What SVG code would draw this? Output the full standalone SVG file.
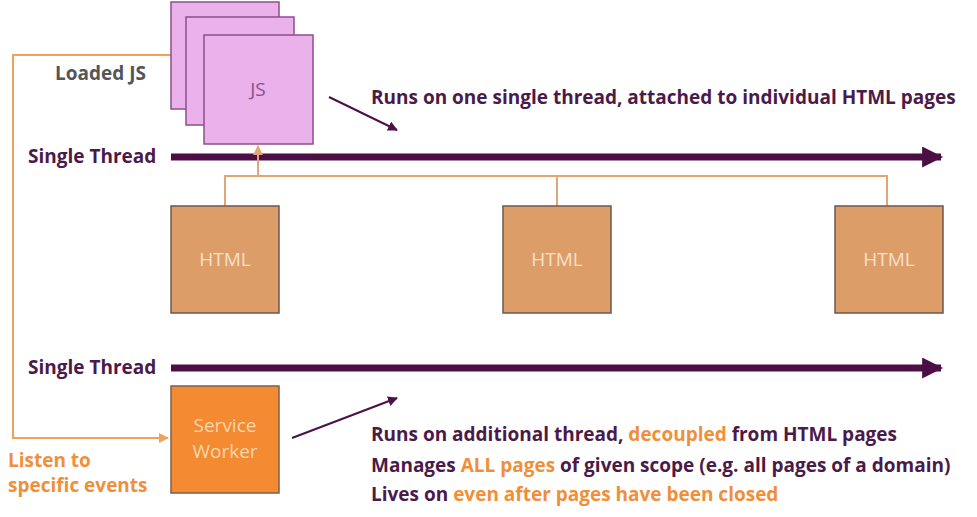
<svg xmlns="http://www.w3.org/2000/svg" width="977" height="517" viewBox="0 0 977 517">
<defs>
<style>
.lbl{font-family:"Open Sans",Lato,sans-serif;font-weight:700;font-size:19px;fill:#4b1a4a}
.org{fill:#f08f3a}
.gray{fill:#555}
.box{font-family:"Open Sans",Lato,sans-serif;font-size:19px;text-anchor:middle}
.js{fill:#ebb1ea;stroke:#8c4f8c;stroke-width:1.5}
.html{fill:#dc9d69;stroke:#6a5a50;stroke-width:1.5}
.thread{stroke:#4b0f46;stroke-width:7;fill:none}
.ol{stroke:#f0a25a;stroke-width:2;fill:none}
.hl{stroke:#e3a576;stroke-width:2;fill:none}
.pa{stroke:#4b1248;stroke-width:2;fill:none}
</style>
<marker id="thr" viewBox="0 0 10 10" refX="9" refY="5" markerWidth="3.2" markerHeight="3" orient="auto" markerUnits="strokeWidth"><path d="M0,0L10,5L0,10z" fill="#4b0f46"/></marker>
<marker id="oa" viewBox="0 0 10 10" refX="9" refY="5" markerWidth="5" markerHeight="5" orient="auto" markerUnits="strokeWidth"><path d="M0,0L10,5L0,10z" fill="#f0a25a"/></marker>
<marker id="ha" viewBox="0 0 10 10" refX="9" refY="5" markerWidth="5" markerHeight="5" orient="auto" markerUnits="strokeWidth"><path d="M0,0L10,5L0,10z" fill="#e3a576"/></marker>
<marker id="pa" viewBox="0 0 10 10" refX="9" refY="5" markerWidth="5" markerHeight="5" orient="auto" markerUnits="strokeWidth"><path d="M0,0L10,5L0,10z" fill="#4b1248"/></marker>
</defs>
<rect width="977" height="517" fill="#fff"/>
<g id="connectors">
<path class="thread" d="M171,157H941" marker-end="url(#thr)"/>
<path class="thread" d="M171,368H941" marker-end="url(#thr)"/>
<path class="ol" d="M171,55H13V438H168" marker-end="url(#oa)"/>
<path class="hl" d="M225,206V176H887V206M557,176V206"/>
<path class="hl" d="M258,176V146" marker-end="url(#ha)"/>
<path class="pa" d="M329,97L397,130" marker-end="url(#pa)"/>
<path class="pa" d="M292,438L397,398" marker-end="url(#pa)"/>
</g>
<g id="loaded-js">
<rect class="js" x="171" y="2" width="108" height="107"/>
<rect class="js" x="186" y="17" width="108" height="108"/>
<rect class="js" x="204" y="35" width="109" height="109"/>
<text class="box" x="258" y="96" fill="#8b4f8c">JS</text>
<text class="lbl gray" x="55" y="80">Loaded JS</text>
</g>
<g id="thread1-label"><text class="lbl" x="28" y="163">Single Thread</text></g>
<g id="thread2-label"><text class="lbl" x="28" y="374">Single Thread</text></g>
<g id="html1"><rect class="html" x="171" y="206" width="108" height="107"/><text class="box" x="225" y="266" fill="#f8e0c8">HTML</text></g>
<g id="html2"><rect class="html" x="503" y="206" width="108" height="107"/><text class="box" x="557" y="266" fill="#f8e0c8">HTML</text></g>
<g id="html3"><rect class="html" x="835" y="206" width="108" height="107"/><text class="box" x="889" y="266" fill="#f8e0c8">HTML</text></g>
<g id="service-worker">
<rect x="171" y="386" width="108" height="107" fill="#f48a31" stroke="#7a6050" stroke-width="1.5"/>
<text class="box" x="225" y="432" fill="#fbd6ae">Service</text>
<text class="box" x="225" y="458" fill="#fbd6ae">Worker</text>
</g>
<g id="listen-label">
<text class="lbl org" x="8" y="467">Listen to</text>
<text class="lbl org" x="8" y="492">specific events</text>
</g>
<g id="notes">
<text class="lbl" x="371" y="104">Runs on one single thread, attached to individual HTML pages</text>
<text class="lbl" x="371" y="441">Runs on additional thread, <tspan class="org">decoupled</tspan> from HTML pages</text>
<text class="lbl" x="371" y="472">Manages <tspan class="org">ALL pages</tspan> of given scope (e.g. all pages of a domain)</text>
<text class="lbl" x="371" y="501">Lives on <tspan class="org">even after pages have been closed</tspan></text>
</g>
</svg>
